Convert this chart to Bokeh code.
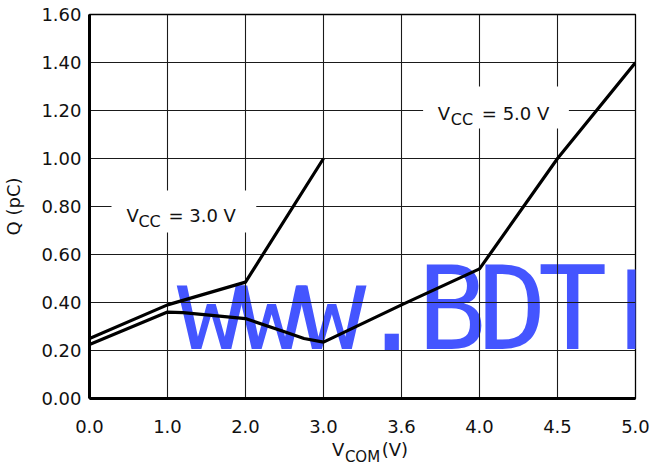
import numpy as np
from bokeh.plotting import figure
from bokeh.models import (Range1d, FixedTicker, Label, BoxAnnotation, NumeralTickFormatter,
                          LinearAxis)
from bokeh.embed import file_html
from bokeh.resources import INLINE

# ---- data ----
x_tick_values = [0.0, 1.0, 2.0, 3.0, 3.6, 4.0, 4.5, 5.0]
x_tick_labels = ["0.0", "1.0", "2.0", "3.0", "3.6", "4.0", "4.5", "5.0"]
y_ticks = [0.0, 0.2, 0.4, 0.6, 0.8, 1.0, 1.2, 1.4, 1.6]

vcc3_vcom = [0.0, 1.0, 2.0, 3.0]
vcc3_q = [0.25, 0.39, 0.485, 1.00]

vcc5_vcom = [0.0, 1.0, 1.2, 2.0, 2.5, 2.75, 3.0, 3.6, 4.0, 4.5, 5.0]
vcc5_q = [0.225, 0.36, 0.358, 0.333, 0.278, 0.25, 0.235, 0.39, 0.54, 1.00, 1.40]

watermark = list("www.BDTI")
watermark_fonts = ["DejaVu Sans Mono"] * 7 + ["Liberation Sans"]

# the axis is evenly spaced by tick index (non-linear in VCOM)
tick_pos = list(range(len(x_tick_values)))
def to_pos(v):
    return np.interp(v, x_tick_values, tick_pos)

FONT = "DejaVu Sans"
TXT = "#111111"

p = figure(width=650, height=469, output_backend="svg", toolbar_location=None,
           x_range=Range1d(0, 7), y_range=Range1d(0, 1.6),
           min_border_left=88, min_border_right=15, min_border_top=14, min_border_bottom=71)
p.background_fill_color = "white"
p.border_fill_color = "white"
p.outline_line_color = "black"
p.outline_line_width = 1.3

# watermark (below the grid)
wm_x = 1.562 + 0.772 * np.arange(len(watermark))
p.text(x=wm_x, y=[0.375] * len(watermark), text=watermark, text_font=watermark_fonts,
       text_font_size="115px", text_color="#4455ff", text_align="center",
       text_baseline="alphabetic", level="image")

# axes
p.xaxis.ticker = FixedTicker(ticks=tick_pos)
p.xaxis.major_label_overrides = {i: lab for i, lab in enumerate(x_tick_labels)}
p.yaxis.ticker = FixedTicker(ticks=y_ticks)
p.yaxis.formatter = NumeralTickFormatter(format="0.00")
p.xgrid.ticker = FixedTicker(ticks=tick_pos)
p.ygrid.ticker = FixedTicker(ticks=y_ticks)

for ax in (p.xaxis[0], p.yaxis[0]):
    ax.axis_line_width = 3
    ax.axis_line_color = "black"
    ax.major_tick_line_color = None
    ax.minor_tick_line_color = None
    ax.major_tick_out = 0
    ax.major_tick_in = 0
    ax.major_label_text_font = FONT
    ax.major_label_text_font_size = "18px"
    ax.major_label_text_color = TXT

p.xaxis.major_label_standoff = 21
p.yaxis.major_label_standoff = 8
p.yaxis.axis_label = "Q (pC)"
p.yaxis.axis_label_text_font = FONT
p.yaxis.axis_label_text_font_size = "18px"
p.yaxis.axis_label_text_font_style = "normal"
p.yaxis.axis_label_text_color = TXT
p.yaxis.axis_label_standoff = 14

# x-axis title "V_COM (V)" built from a second, line-less axis
title_ticks = [3.187, 3.916]
title_axis = LinearAxis(ticker=FixedTicker(ticks=title_ticks),
                        major_label_overrides={title_ticks[0]: "V", title_ticks[1]: "(V)"},
                        axis_line_color=None, major_tick_line_color=None,
                        minor_tick_line_color=None, major_tick_out=0, major_tick_in=0,
                        major_label_standoff=3, major_label_text_font=FONT,
                        major_label_text_font_size="18px", major_label_text_color=TXT,
                        axis_label="COM", axis_label_text_font=FONT,
                        axis_label_text_font_size="15px", axis_label_text_font_style="normal",
                        axis_label_text_color=TXT, axis_label_standoff=-15)
p.add_layout(title_axis, "below")

p.grid.grid_line_color = "#1a1a1a"
p.grid.grid_line_width = 1.1

# curves
p.line(to_pos(vcc3_vcom), vcc3_q, line_color="black", line_width=3.2, line_join="round")
p.line(to_pos(vcc5_vcom), vcc5_q, line_color="black", line_width=3.2, line_join="round")

# white boxes behind the curve labels
p.add_layout(BoxAnnotation(left=0.282, right=2.138, bottom=0.692, top=0.867,
                           fill_color="white", fill_alpha=1, line_color=None))
p.add_layout(BoxAnnotation(left=4.277, right=6.146, bottom=1.125, top=1.30,
                           fill_color="white", fill_alpha=1, line_color=None))

def sub_label(x, y, main, sub, rest, sub_off, rest_off, size="18px", sub_size="16px", drop=6):
    p.add_layout(Label(x=x, y=y, text=main, text_font=FONT, text_font_size=size,
                       text_baseline="alphabetic", text_color=TXT))
    p.add_layout(Label(x=x, y=y, x_offset=sub_off, y_offset=-drop, text=sub, text_font=FONT,
                       text_font_size=sub_size, text_baseline="alphabetic", text_color=TXT))
    p.add_layout(Label(x=x, y=y, x_offset=rest_off, text=rest, text_font=FONT,
                       text_font_size=size, text_baseline="alphabetic", text_color=TXT))

sub_label(0.4735, 0.7625, "V", "CC", "= 3.0 V", 12, 42)
sub_label(4.466, 1.1875, "V", "CC", "= 5.0 V", 13, 44)

open("out.html", "w").write(file_html(p, INLINE))
